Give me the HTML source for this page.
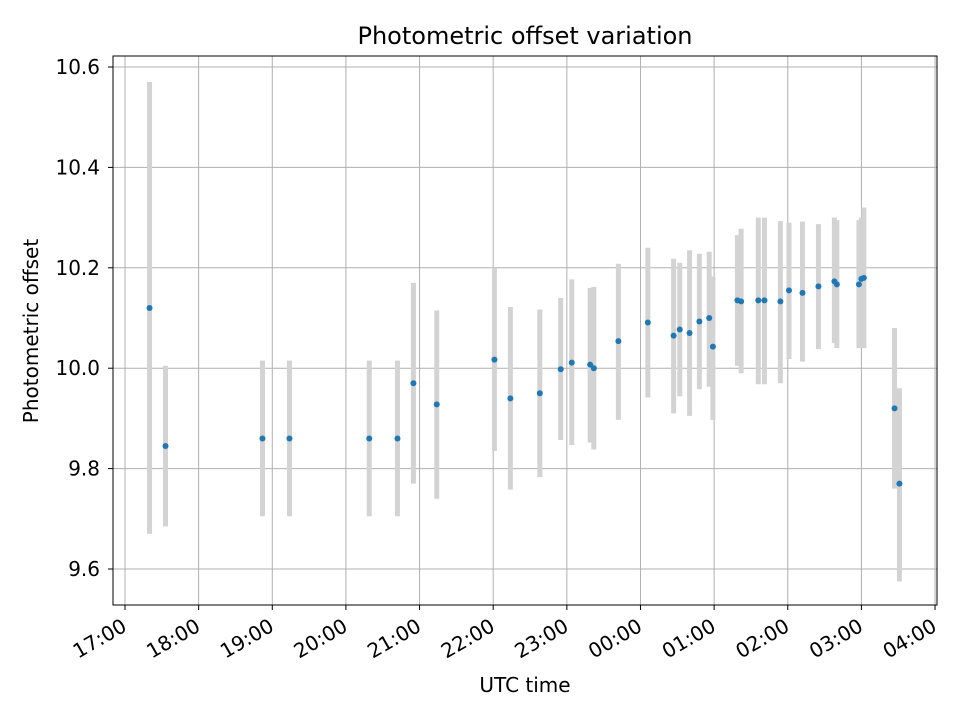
<!DOCTYPE html>
<html><head><meta charset="utf-8"><style>body{margin:0;background:#fff}svg{display:block;font-family:"DejaVu Sans","Liberation Sans",sans-serif}</style></head>
<body>
<svg id="chart" width="960" height="720" xmlns="http://www.w3.org/2000/svg">
<text x="525" y="44" font-size="24" text-anchor="middle">Photometric offset variation</text>
<text x="525" y="692" font-size="20" text-anchor="middle">UTC time</text>
<text transform="translate(38,331) rotate(-90)" font-size="20" text-anchor="middle">Photometric offset</text>
<g id="grid"></g>
<g id="errs"></g>
<g id="pts"></g>
<g id="axes"></g>
</svg>
<script>
const times=["17:20","17:33","18:52","19:14","20:19","20:42","20:55","21:14","22:01","22:14","22:38","22:55","23:04","23:19","23:22","23:42","00:06","00:27","00:32","00:40","00:48","00:56","00:59","01:19","01:22","01:36","01:41","01:54","02:01","02:12","02:25","02:38","02:40","02:58","03:00","03:02","03:27","03:31"];
const values=[10.12,9.845,9.86,9.86,9.86,9.86,9.97,9.928,10.017,9.94,9.95,9.998,10.011,10.007,10.0,10.054,10.091,10.065,10.077,10.07,10.093,10.10,10.043,10.135,10.133,10.135,10.135,10.133,10.155,10.15,10.163,10.173,10.167,10.167,10.178,10.18,9.92,9.77];
const lows=[9.67,9.685,9.705,9.705,9.705,9.705,9.77,9.74,9.835,9.758,9.783,9.857,9.847,9.852,9.838,9.897,9.942,9.91,9.944,9.905,9.958,9.963,9.897,10.005,9.99,9.968,9.968,9.97,10.018,10.013,10.038,10.05,10.04,10.04,10.04,10.04,9.76,9.575];
const highs=[10.57,10.005,10.015,10.015,10.015,10.015,10.17,10.115,10.2,10.122,10.117,10.14,10.177,10.16,10.162,10.208,10.24,10.218,10.21,10.235,10.228,10.232,10.183,10.265,10.278,10.3,10.3,10.293,10.29,10.292,10.287,10.3,10.295,10.295,10.3,10.32,10.08,9.96];
const xTicks=["17:00","18:00","19:00","20:00","21:00","22:00","23:00","00:00","01:00","02:00","03:00","04:00"];
const yTicks=[9.6,9.8,10.0,10.2,10.4,10.6];
const L=113,R=937,T=56,B=605;
const NS="http://www.w3.org/2000/svg";
function tm(s){let [h,m]=s.split(":").map(Number);if(h<17)h+=24;return (h-17)*60+m;}
function X(min){return 125+min/60*73.64;}
function Y(v){return 569-(v-9.6)*502;}
function mk(tag,a,p){const e=document.createElementNS(NS,tag);for(const k in a)e.setAttribute(k,a[k]);p.appendChild(e);return e;}
const grid=document.getElementById('grid'),axes=document.getElementById('axes'),errs=document.getElementById('errs'),pts=document.getElementById('pts');
xTicks.forEach((t,i)=>{const x=X(i*60);
 const g=mk('line',{x1:x,x2:x,y1:T,y2:B,stroke:'#b0b0b0','stroke-width':1},grid);
 
 mk('line',{x1:x,x2:x,y1:B,y2:B+5,stroke:'#000'},axes);
 const tx=mk('text',{x:0,y:0,'font-size':20,'text-anchor':'end',transform:`translate(${x+3},${B+25}) rotate(-30)`},axes);
 tx.textContent=t;});
yTicks.forEach(v=>{const y=Y(v);
 const g=mk('line',{x1:L,x2:R,y1:y,y2:y,stroke:'#b0b0b0','stroke-width':1},grid);
 
 mk('line',{x1:L-5,x2:L,y1:y,y2:y,stroke:'#000'},axes);
 const tx=mk('text',{x:L-13,y:y+7,'font-size':20,'text-anchor':'end'},axes);
 tx.textContent=v.toFixed(1);});
mk('rect',{x:L,y:T,width:R-L,height:B-T,fill:'none',stroke:'#000','stroke-width':1},axes);
times.forEach((t,i)=>{const x=X(tm(t));
 const e=mk('line',{x1:x,x2:x,y1:Y(lows[i]),y2:Y(highs[i]),stroke:'#d3d3d3','stroke-width':5},errs);
 
 const c=mk('circle',{cx:x,cy:Y(values[i]),r:3,fill:'#1f77b4'},pts);
 });
</script>
</body></html>
